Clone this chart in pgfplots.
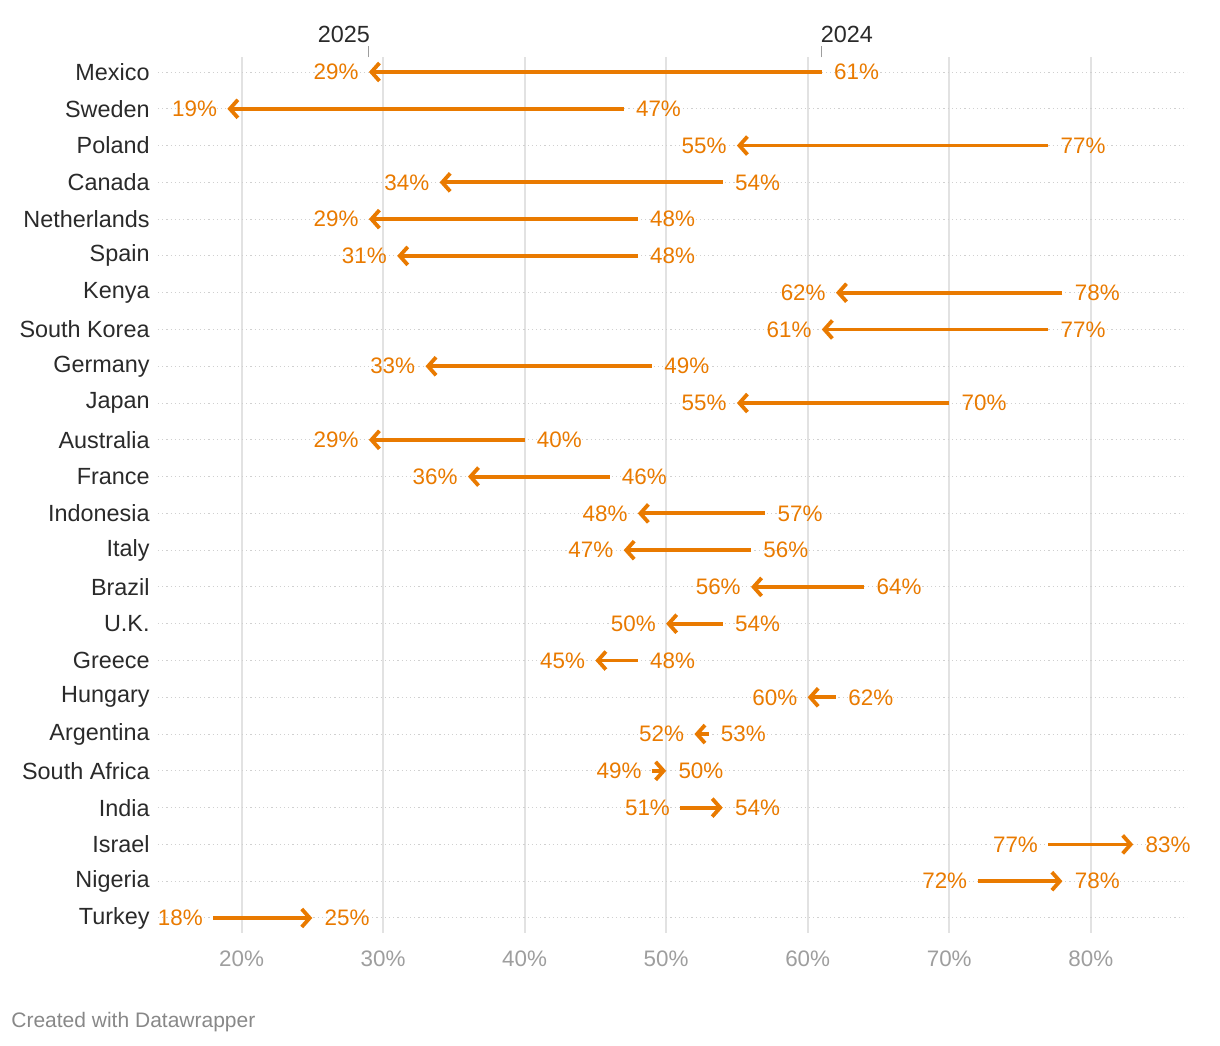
\documentclass[border=0pt]{standalone}
\usepackage{fontspec}
\setmainfont{Liberation Sans}
\usepackage{pgfplots}
\pgfplotsset{compat=1.18}
\usepackage{pgfplotstable}
\usetikzlibrary{arrows.meta}

\definecolor{dwor}{HTML}{E97A00}
\definecolor{lbl}{HTML}{2A2A2A}
\definecolor{tk}{HTML}{9E9E9E}
\definecolor{gridc}{HTML}{E2E2E2}
\definecolor{dotc}{HTML}{D0D0D0}
\definecolor{foot}{HTML}{888888}

% i = row (0 = Mexico), a = 2024, b = 2025
\pgfplotstableread{
i a b
0 61 29
1 47 19
2 77 55
3 54 34
4 48 29
5 48 31
6 78 62
7 77 61
8 49 33
9 70 55
10 40 29
11 46 36
12 57 48
13 56 47
14 64 56
15 54 50
16 48 45
17 62 60
18 53 52
}\falling
\pgfplotstableread{
i a b
19 49 50
20 51 54
21 77 83
22 72 78
23 18 25
}\rising

\begin{document}
\begin{tikzpicture}
\begin{axis}[
    scale only axis,
    width=514.5pt, height=437.7pt,
    xmin=14.1, xmax=86.8,
    ymin=-0.4, ymax=23.4,
    y dir=reverse,
    clip=false,
    axis line style={draw=none},
    major tick length=0pt,
    tick style={draw=none},
    xtick={20,30,...,80},
    xticklabel={\pgfmathprintnumber{\tick}\%},
    xticklabel style={font=\fontsize{11.2}{13}\selectfont, text=tk, anchor=north, inner sep=0pt, yshift=-9pt},
    ytick={0,...,23},
    yticklabels={Mexico,Sweden,Poland,Canada,Netherlands,Spain,Kenya,South Korea,Germany,Japan,Australia,France,Indonesia,Italy,Brazil,U.K.,Greece,Hungary,Argentina,South Africa,India,Israel,Nigeria,Turkey},
    yticklabel style={font=\fontsize{11.7}{13}\selectfont, text=lbl, anchor=east, inner sep=0pt, xshift=-4pt},
    xmajorgrids, ymajorgrids,
    x grid style={gridc, line width=1pt},
    y grid style={dotc, line width=0.5pt, dash pattern=on 0.6pt off 1.5pt},
    /pgf/number format/assume math mode=true,
    nodes near coords={\pgfmathprintnumber{\pgfplotspointmeta}\%},
    point meta=x,
]
% arrows 2024 -> 2025
\addplot[dwor, line width=1.9pt, line cap=butt,
    -{Straight Barb[length=4pt, width=9pt]},
    quiver={u=\thisrow{b}-\thisrow{a}, v=0},
    nodes near coords={}] table[x=a, y=i] {\falling};
\addplot[dwor, line width=1.9pt, line cap=butt,
    -{Straight Barb[length=4pt, width=9pt]},
    quiver={u=\thisrow{b}-\thisrow{a}, v=0},
    nodes near coords={}] table[x=a, y=i] {\rising};

% value labels
\pgfplotsset{every node near coord/.append style={font=\fontsize{11.2}{13}\selectfont, text=dwor, inner sep=0pt}}
\addplot[draw=none, mark=none, every node near coord/.append style={anchor=east, xshift=-5pt}] table[x=b, y=i] {\falling};
\addplot[draw=none, mark=none, every node near coord/.append style={anchor=west, xshift=6pt}] table[x=a, y=i] {\falling};
\addplot[draw=none, mark=none, every node near coord/.append style={anchor=west, xshift=6pt}] table[x=b, y=i] {\rising};
\addplot[draw=none, mark=none, every node near coord/.append style={anchor=east, xshift=-5pt}] table[x=a, y=i] {\rising};

% column headers
\draw[tk, line width=0.6pt] (axis cs:29,-0.4) -- ([yshift=5.5pt]axis cs:29,-0.4);
\draw[tk, line width=0.6pt] (axis cs:61,-0.4) -- ([yshift=5.5pt]axis cs:61,-0.4);
\node[anchor=base east, inner sep=0pt, font=\fontsize{11.7}{13}\selectfont, text=lbl] at ([yshift=7.5pt]axis cs:29.1,-0.4) {2025};
\node[anchor=base west, inner sep=0pt, font=\fontsize{11.7}{13}\selectfont, text=lbl] at ([yshift=7.5pt]axis cs:60.9,-0.4) {2024};
\end{axis}
\node[anchor=base west, inner sep=0pt, font=\fontsize{10.5}{12}\selectfont, text=foot] at ([xshift=-73.5pt,yshift=-47.65pt]current axis.south west) {Created with Datawrapper};
\pgfresetboundingbox
\path[use as bounding box] ([xshift=-79pt,yshift=-56.65pt]current axis.south west) rectangle ([xshift=16.5pt,yshift=28.65pt]current axis.north east);
\end{tikzpicture}
\end{document}
